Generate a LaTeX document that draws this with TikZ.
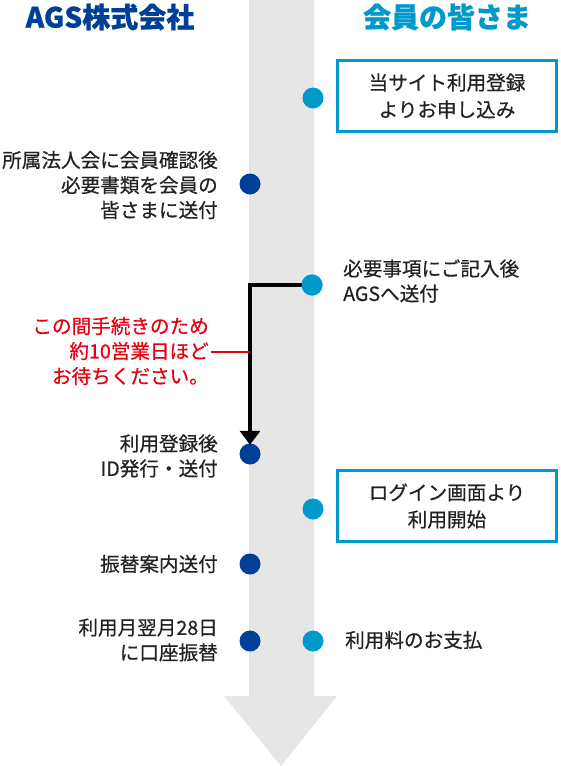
\documentclass[tikz,border=0pt]{standalone}
\usepackage{fontspec}
\setmainfont[FakeBold=0.6]{Noto Sans CJK JP}
\newfontfamily\headfont[FakeBold=0.8]{Noto Sans CJK JP}
\usetikzlibrary{arrows.meta}
\definecolor{agsblue}{HTML}{003F98}
\definecolor{memcyan}{HTML}{0099CC}
\definecolor{bandgray}{HTML}{E6E6E6}
\definecolor{noteRed}{HTML}{E60012}
\definecolor{txt}{HTML}{222222}
\tikzset{
  body/.style={inner sep=0pt, text=txt, font={\fontsize{19.6}{25}\selectfont}},
  lefttxt/.style={body, anchor=east, align=right},
  righttxt/.style={body, anchor=west, align=left},
  boxtxt/.style={body, draw=memcyan, line width=3pt, align=center, minimum width=219pt, minimum height=71pt, font={\fontsize{19.6}{27}\selectfont}},
  cdot/.style={circle, fill=memcyan, minimum size=21pt, inner sep=0pt},
  bdot/.style={circle, fill=agsblue, minimum size=21pt, inner sep=0pt},
  header/.style={inner sep=0pt, font={\headfont\fontsize{28}{32}\selectfont\bfseries}},
  flow/.style={line width=4.5pt, black, -{Triangle[width=20pt,length=14pt]}},
  noteline/.style={line width=1.6pt, noteRed}
}
\begin{document}
\begin{tikzpicture}[x=1pt,y=-1pt]
\useasboundingbox (0,0) rectangle (560,766);
% band and big arrow
\fill[bandgray] (249,0) -- (314,0) -- (314,696) -- (337,696) -- (281,766) -- (224,696) -- (249,696) -- cycle;
% headers
\node[header, text=agsblue] (h1) at (110,17) {AGS株式会社};
\node[header, text=memcyan] (h2) at (447,17) {会員の皆さま};
% step 1
\node[cdot] (d1) at (313,98) {};
\node[boxtxt] (b1) at (447,96) {当サイト利用登録\\よりお申し込み};
% step 2
\node[bdot] (d2) at (250,184) {};
\node[lefttxt] (t2) at (218,185) {所属法人会に会員確認後\\必要書類を会員の\\皆さまに送付};
% step 3
\node[cdot] (d3) at (312,285) {};
\node[righttxt] (t3) at (343,281) {必要事項にご記入後\\AGSへ送付};
% note
\node[lefttxt, text=noteRed] (note) at (209,351) {この間手続きのため\\約10営業日ほど\\お待ちください。};
% step 4
\node[bdot] (d4) at (250,454) {};
\node[lefttxt] (t4) at (218,456) {利用登録後\\ID発行・送付};
% arrow from step 3 to step 4
\coordinate (bend) at (250,285);
\coordinate (rj) at (250,352);
\draw[flow] (d3.center) -- (bend) -- ([yshift=-1.5pt]d4.north);
\fill[memcyan] (d3) circle (10.5pt);
\draw[noteline] (rj -| note.east) ++(2,0) -- (rj);
% step 5
\node[cdot] (d5) at (313,509) {};
\node[boxtxt] (b5) at (447,506) {ログイン画面より\\利用開始};
% step 6
\node[bdot] (d6) at (250,564) {};
\node[lefttxt] (t6) at (218,564) {振替案内送付};
% step 7
\node[bdot] (d7) at (250,641) {};
\node[lefttxt] (t7) at (218,640) {利用月翌月28日\\に口座振替};
\node[cdot] (d8) at (313,641) {};
\node[righttxt] (t8) at (345,640) {利用料のお支払};
\end{tikzpicture}
\end{document}
